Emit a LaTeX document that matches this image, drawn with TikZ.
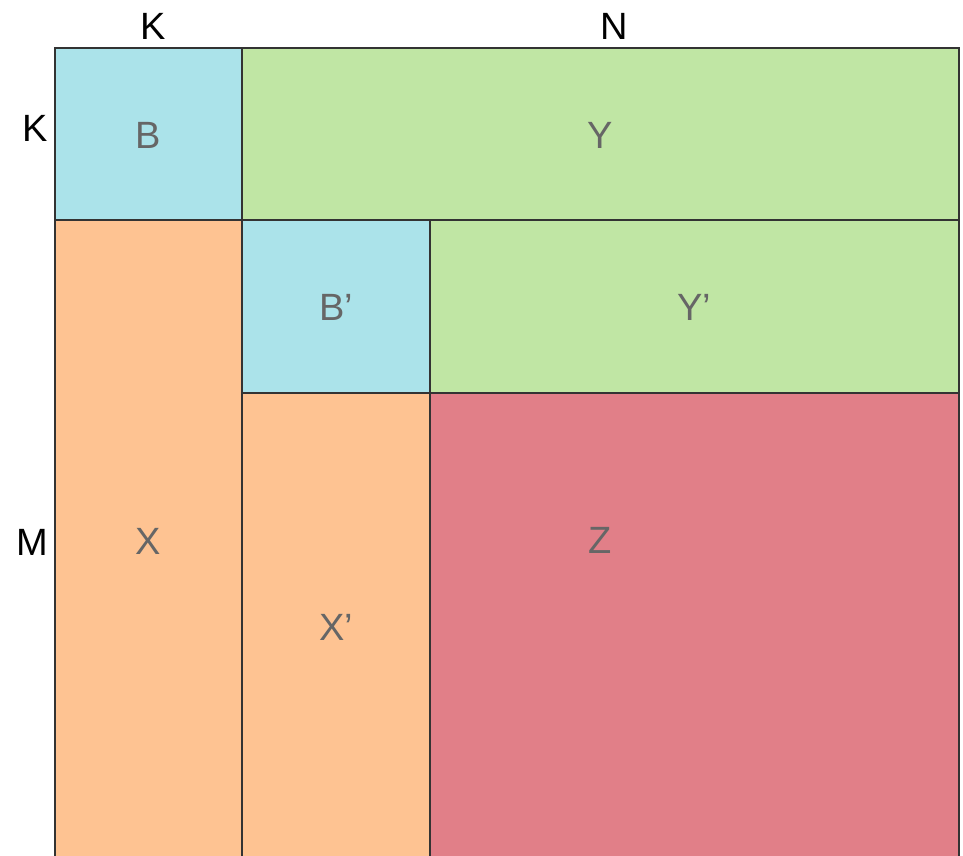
\documentclass[tikz,border=0pt]{standalone}
\usepackage{fontspec}
\setmainfont{Liberation Sans}
\definecolor{cblue}{HTML}{ABE3EA}
\definecolor{cgreen}{HTML}{C0E6A4}
\definecolor{corange}{HTML}{FEC392}
\definecolor{cred}{HTML}{E17F88}
\definecolor{cedge}{HTML}{333333}
\definecolor{ctext}{HTML}{666666}
\begin{document}
\begin{tikzpicture}[x=1pt,y=-1pt,
  cell/.style={draw=cedge,line width=2.6pt},
  inlabel/.style={text=ctext,font=\fontsize{38}{40}\selectfont,inner sep=0pt},
  axlabel/.style={text=black,font=\fontsize{38}{40}\selectfont,inner sep=0pt}]
\useasboundingbox (0,0) rectangle (963,855);
\begin{scope}
\clip (0,0) rectangle (963,855);
\filldraw[cell,fill=cblue]   (55,48)  rectangle (242,220);
\filldraw[cell,fill=cgreen]  (242,48) rectangle (959,220);
\filldraw[cell,fill=corange] (55,220) rectangle (242,880);
\filldraw[cell,fill=cblue]   (242,220) rectangle (430,393);
\filldraw[cell,fill=cgreen]  (430,220) rectangle (959,393);
\filldraw[cell,fill=corange] (242,393) rectangle (430,880);
\filldraw[cell,fill=cred]    (430,393) rectangle (959,880);
\end{scope}
\node[inlabel] (b)  at (148,135) {B};
\node[inlabel] (y)  at (600,135) {Y};
\node[inlabel] (bp) at (336,307) {B’};
\node[inlabel] (yp) at (694,307) {Y’};
\node[inlabel] (x)  at (148,541) {X};
\node[inlabel] (xp) at (336,627) {X’};
\node[inlabel] (z)  at (600,540) {Z};
\node[axlabel] (kt) at (153,26) {K};
\node[axlabel] (nt) at (614,26) {N};
\node[axlabel] (kl) at (35,128) {K};
\node[axlabel] (ml) at (32,542) {M};
\end{tikzpicture}
\end{document}
